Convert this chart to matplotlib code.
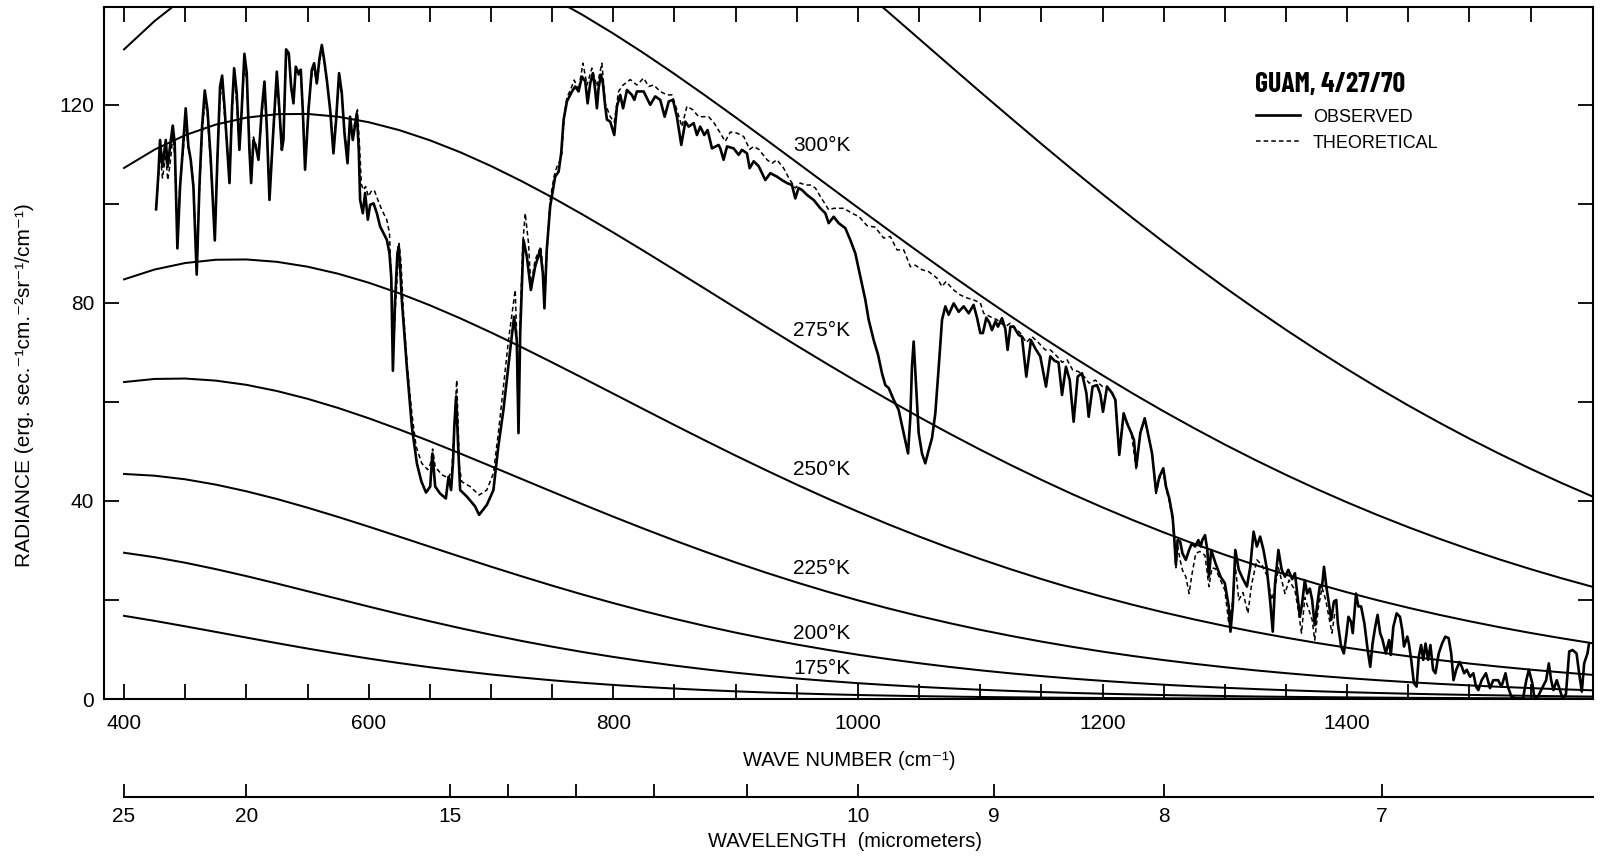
import matplotlib
matplotlib.use('Agg')
import matplotlib.pyplot as plt
from matplotlib.ticker import FixedLocator, NullFormatter

# observed spectrum (cm^-1, radiance)
obs_nu = [426.2, 428.1, 429.4, 431.4, 434.1, 435.7, 437.6, 439.8, 441.4, 443.6, 445.8, 448.0, 450.4, 452.6, 454.5,
          456.7, 459.4, 461.6, 463.8, 466.0, 468.2, 470.9, 474.2, 476.3, 478.5, 480.2, 482.3, 486.2, 488.3, 490.0,
          492.1, 494.3, 496.2, 498.4, 500.3, 502.5, 503.9, 505.8, 507.7, 509.9, 512.6, 514.8, 516.7, 518.9, 521.6,
          524.9, 527.0, 529.0, 530.3, 532.5, 534.7, 536.6, 538.5, 540.4, 542.6, 544.5, 546.1, 548.0, 550.8, 553.5,
          555.4, 557.6, 559.8, 561.7, 563.6, 565.8, 568.5, 571.2, 573.4, 575.8, 578.0, 580.2, 582.7, 584.8, 587.0,
          588.7, 590.3, 591.9, 593.0, 595.2, 597.1, 599.3, 601.2, 604.0, 606.7, 609.4, 612.1, 614.9, 617.0, 618.5,
          619.8, 621.5, 623.5, 624.6, 626.0, 627.1, 631.2, 635.3, 639.4, 643.0, 646.9, 650.3, 652.1, 654.4, 658.4,
          663.1, 665.3, 667.4, 669.0, 670.0, 671.5, 673.4, 674.8, 680.2, 687.0, 690.3, 696.6, 702.0, 706.0, 710.2,
          715.7, 718.9, 721.1, 722.5, 723.9, 726.6, 729.3, 732.6, 736.1, 740.2, 742.4, 743.7, 745.6, 748.4, 752.5,
          755.3, 757.4, 759.4, 762.1, 766.2, 768.9, 771.6, 774.4, 777.1, 779.0, 781.2, 783.3, 785.2, 786.6, 788.0,
          789.9, 791.5, 793.4, 794.8, 797.5, 800.8, 803.0, 805.7, 808.0, 811.2, 815.2, 817.2, 819.3, 824.8, 830.2,
          834.3, 838.4, 842.0, 845.4, 848.8, 852.0, 855.6, 858.9, 861.6, 865.7, 868.4, 871.1, 874.4, 877.1, 880.7,
          886.1, 887.5, 890.2, 893.0, 898.4, 902.5, 905.2, 909.3, 911.5, 914.8, 918.9, 924.3, 928.4, 933.8, 937.9,
          942.0, 946.1, 948.8, 951.5, 954.3, 958.4, 963.8, 969.3, 973.4, 976.1, 980.2, 984.3, 989.7, 993.8, 997.9,
          1002.0, 1006.1, 1008.8, 1012.9, 1016.5, 1019.7, 1022.4, 1025.2, 1029.3, 1033.3, 1037.4, 1041.0, 1042.9,
          1044.2, 1045.6, 1047.5, 1049.7, 1052.4, 1055.1, 1057.9, 1060.6, 1063.3, 1066.1, 1068.8, 1071.5, 1074.2,
          1078.3, 1082.4, 1086.5, 1090.6, 1094.6, 1097.4, 1100.1, 1102.2, 1105.0, 1107.5, 1109.6, 1112.5, 1114.5,
          1117.8, 1120.5, 1122.4, 1124.7, 1127.3, 1131.5, 1134.1, 1137.7, 1141.5, 1145.0, 1149.1, 1153.8, 1157.3,
          1160.8, 1164.0, 1166.9, 1170.1, 1173.2, 1176.4, 1179.7, 1183.2, 1186.8, 1188.7, 1191.9, 1195.5, 1198.2,
          1200.4, 1203.7, 1207.8, 1210.5, 1213.7, 1217.3, 1220.0, 1223.6, 1225.7, 1227.6, 1230.9, 1234.5, 1237.7,
          1240.5, 1243.8, 1246.5, 1249.7, 1251.9, 1254.6, 1257.3, 1258.6, 1260.0, 1261.4, 1263.5, 1265.4, 1268.1,
          1270.8, 1273.0, 1275.7, 1278.4, 1280.3, 1281.6, 1283.8, 1285.7, 1287.0, 1288.9, 1292.4, 1296.5, 1300.0,
          1303.2, 1304.6, 1306.5, 1308.6, 1311.4, 1314.9, 1318.1, 1320.8, 1323.5, 1326.2, 1328.9, 1331.6, 1334.3,
          1337.0, 1339.2, 1341.1, 1343.8, 1346.5, 1349.2, 1351.9, 1355.1, 1357.3, 1359.5, 1361.4, 1363.2, 1365.4,
          1367.3, 1369.5, 1371.4, 1373.5, 1375.4, 1377.6, 1379.5, 1381.1, 1383.0, 1385.1, 1387.0, 1389.2, 1391.1,
          1392.4, 1395.1, 1397.3, 1399.2, 1401.1, 1403.2, 1404.6, 1407.3, 1409.2, 1411.4, 1414.1, 1416.8, 1418.9,
          1420.8, 1423.0, 1424.9, 1427.0, 1428.9, 1431.6, 1434.3, 1435.7, 1437.8, 1440.5, 1443.2, 1445.1, 1446.5,
          1449.2, 1450.5, 1452.4, 1454.6, 1456.8, 1458.6, 1460.5, 1462.2, 1464.1, 1466.2, 1468.1, 1470.3, 1472.2,
          1474.9, 1477.6, 1480.3, 1483.0, 1485.1, 1487.0, 1489.2, 1491.9, 1493.8, 1495.7, 1497.8, 1500.5, 1503.2,
          1505.4, 1507.3, 1510.0, 1513.5, 1516.8, 1519.5, 1523.5, 1526.2, 1529.5, 1531.4, 1534.3, 1538.4, 1543.8,
          1546.5, 1548.6, 1551.4, 1553.2, 1556.0, 1560.0, 1562.7, 1564.9, 1566.8, 1568.7, 1571.4, 1573.5, 1576.2,
          1578.9, 1581.6, 1584.3, 1587.6, 1589.7, 1591.9, 1593.8, 1596.5, 1597.8]
obs_rad = [98.9, 106.2, 112.9, 107.5, 112.9, 107.5, 111.6, 115.8, 112.3, 91.0, 103.5, 110.9, 119.3, 111.6, 108.9,
           103.5, 85.7, 103.5, 115.6, 122.9, 119.0, 108.9, 92.6, 108.9, 123.7, 125.9, 119.0, 104.2, 119.7, 127.4,
           122.4, 110.9, 119.0, 130.3, 126.4, 110.9, 104.2, 112.9, 111.6, 108.9, 119.0, 124.7, 115.6, 100.8, 112.9,
           126.7, 119.0, 110.9, 112.9, 131.2, 130.4, 123.7, 120.3, 127.7, 126.4, 127.1, 119.0, 106.9, 119.0, 127.1,
           128.4, 124.4, 129.4, 132.1, 129.1, 125.0, 119.0, 110.2, 117.0, 126.4, 122.4, 114.3, 108.2, 117.6, 112.9,
           115.6, 118.3, 110.9, 100.8, 98.1, 102.2, 96.8, 99.8, 100.1, 98.1, 95.4, 94.1, 92.7, 90.0, 85.0,
           66.3, 80.0, 90.0, 91.4, 86.0, 80.6, 67.1, 55.0, 47.6, 44.0, 41.7, 42.9, 49.6, 42.9, 41.5,
           40.5, 44.9, 42.2, 48.0, 55.0, 61.1, 49.6, 42.2, 40.9, 38.9, 37.2, 39.2, 42.2, 51.0, 58.4,
           70.5, 77.2, 72.5, 53.7, 73.9, 92.7, 89.4, 82.6, 87.3, 90.7, 86.0, 78.9, 90.7, 99.5, 105.5,
           106.5, 110.2, 117.0, 120.7, 122.7, 123.7, 122.7, 125.7, 124.7, 120.3, 124.4, 126.4, 123.0, 119.3, 123.4,
           126.1, 124.4, 119.7, 117.0, 116.6, 113.9, 119.7, 122.0, 119.3, 123.0, 122.0, 121.0, 122.7, 122.7, 120.0,
           121.7, 121.0, 117.6, 120.7, 121.0, 117.6, 111.9, 116.6, 115.6, 116.3, 113.9, 115.6, 113.9, 114.9, 111.2,
           111.9, 111.2, 108.9, 111.6, 111.2, 109.9, 110.9, 110.2, 107.2, 108.6, 107.6, 104.8, 106.2, 105.5, 104.8,
           104.2, 103.8, 101.1, 103.2, 102.8, 101.8, 100.8, 99.1, 98.1, 96.1, 97.4, 96.1, 95.1, 92.7, 90.0,
           85.3, 80.6, 76.6, 72.5, 69.5, 65.8, 63.4, 62.8, 60.4, 58.4, 53.7, 49.6, 57.0,
           67.1, 72.2, 63.8, 53.7, 49.6, 47.6, 50.3, 52.7, 57.7, 67.1, 76.6, 79.3, 77.6,
           79.9, 78.2, 79.3, 77.9, 79.6, 77.0, 73.9, 73.9, 77.0, 76.0, 74.5, 76.3, 75.2,
           76.9, 74.8, 70.5, 75.2, 75.2, 73.5, 73.2, 65.1, 72.5, 70.8, 69.2, 63.1, 69.2,
           68.3, 68.0, 61.4, 67.1, 64.4, 56.0, 65.1, 65.8, 61.8, 57.0, 63.1, 63.4, 61.6,
           58.0, 63.1, 61.8, 60.4, 49.3, 57.7, 55.7, 53.7, 52.3, 46.9, 53.7, 56.7, 53.0,
           49.6, 41.9, 44.9, 46.6, 42.9, 40.5, 36.8, 32.8, 27.1, 32.1, 31.8, 29.4, 28.1,
           30.1, 31.4, 30.8, 32.1, 30.8, 32.1, 33.1, 30.1, 24.7, 30.1, 27.4, 24.7, 23.4,
           18.7, 13.6, 18.7, 30.1, 26.1, 24.2, 22.7, 26.7, 33.8, 30.8, 32.8, 30.1, 26.4,
           20.0, 13.6, 23.4, 30.1, 26.1, 24.7, 26.1, 24.2, 25.4, 20.7, 16.6, 19.3, 24.0,
           21.3, 22.3, 20.0, 14.9, 18.7, 22.7, 22.7, 26.7, 22.7, 19.3, 16.0, 19.7, 20.0,
           15.3, 10.6, 9.2, 12.6, 16.6, 15.6, 13.3, 21.3, 18.7, 18.7, 15.3, 9.9, 6.5,
           11.2, 14.6, 17.0, 13.3, 12.0, 9.2, 11.9, 8.9, 14.6, 17.3, 16.6, 13.9, 10.6,
           12.6, 11.2, 7.9, 3.2, 2.5, 8.6, 10.9, 7.9, 11.2, 7.9, 10.9, 5.9, 5.2,
           9.2, 11.2, 12.6, 12.3, 9.2, 3.8, 5.9, 7.5, 6.5, 5.2, 5.9, 4.5, 5.2,
           2.5, 1.8, 3.8, 5.2, 2.2, 3.8, 3.8, 2.5, 5.2, 2.5, 0.5, 0.1, 0.1,
           3.8, 5.9, 3.2, 0.1, 0.5, 2.5, 3.8, 7.2, 3.8, 1.8, 3.8, 2.2, 0.1,
           1.0, 9.6, 9.9, 9.2, 5.2, 1.5, 7.2, 9.2, 11.2]

# theoretical spectrum (dashed)
theo_nu = [426.2, 428.1, 429.4, 431.4, 434.1, 435.7, 437.6, 439.8, 441.4, 443.6, 445.8, 448.0, 450.4, 452.6, 454.5,
           456.7, 459.4, 461.6, 463.8, 466.0, 468.2, 470.9, 474.2, 476.3, 478.5, 480.2, 482.3, 486.2, 488.3, 490.0,
           492.1, 494.3, 496.2, 498.4, 500.3, 502.5, 503.9, 505.8, 507.7, 509.9, 512.6, 514.8, 516.7, 518.9, 521.6,
           524.9, 527.0, 529.0, 530.3, 532.5, 534.7, 536.6, 538.5, 540.4, 542.6, 544.5, 546.1, 548.0, 550.8, 553.5,
           555.4, 557.6, 559.8, 561.7, 563.6, 565.8, 568.5, 571.2, 573.4, 575.8, 578.0, 580.2, 582.7, 584.8, 587.0,
           588.7, 590.8, 592.5, 594.0, 595.7, 597.5, 599.8, 602.0, 604.5, 607.5, 610.7, 614.8, 617.0, 618.9, 620.3,
           622.2, 624.9, 626.5, 628.3, 631.6, 635.3, 638.8, 643.4, 648.3, 650.5, 652.3, 654.4, 659.8, 665.3, 668.0,
           670.0, 672.0, 673.4, 674.2, 676.1, 683.0, 690.3, 696.6, 702.0, 706.0, 710.2, 714.3, 718.4, 719.8, 721.0,
           722.3, 723.8, 726.0, 728.0, 730.7, 732.6, 736.1, 740.8, 742.9, 744.0, 745.8, 748.4, 751.5, 753.9, 756.0,
           758.0, 759.8, 762.1, 764.8, 768.1, 771.5, 775.2, 778.5, 782.5, 786.6, 790.7, 793.4, 797.5, 800.8, 804.3,
           808.0, 813.9, 819.3, 824.8, 828.9, 833.0, 838.4, 843.9, 848.0, 852.0, 856.1, 860.2, 865.0, 869.8, 874.0,
           878.0, 882.5, 887.5, 891.5, 895.7, 901.0, 906.6, 911.5, 914.8, 919.0, 925.7, 929.8, 933.8, 939.3, 944.0,
           948.8, 952.9, 957.0, 961.1, 965.2, 969.3, 976.1, 980.2, 988.4, 995.2, 1001.0, 1007.4, 1014.0, 1021.1,
           1026.5, 1032.0, 1037.5, 1042.9, 1047.0, 1052.4, 1057.9, 1064.7, 1068.8, 1072.0, 1078.3, 1083.7, 1089.2,
           1094.6, 1100.1, 1102.8, 1108.3, 1113.7, 1120.6, 1124.6, 1132.8, 1137.7, 1142.3, 1147.5, 1153.2, 1157.4,
           1162.8, 1167.0, 1171.0, 1175.5, 1180.5, 1185.0, 1189.0, 1194.1, 1200.0, 1203.7, 1207.7, 1210.6, 1213.5,
           1217.3, 1220.0, 1223.6, 1227.6, 1230.9, 1234.5, 1237.7, 1240.5, 1243.8, 1246.5, 1249.7, 1251.9, 1254.6,
           1257.3, 1258.6, 1260.0, 1261.4, 1263.5, 1265.4, 1268.1, 1270.8, 1273.0, 1276.2, 1279.5, 1283.8, 1287.0,
           1289.5, 1292.4, 1296.5, 1300.0, 1303.2, 1306.0, 1308.6, 1311.4, 1314.9, 1318.9, 1321.8, 1326.2, 1330.5,
           1334.3, 1338.4, 1341.1, 1343.8, 1349.2, 1352.5, 1357.3, 1360.0, 1362.7, 1365.4, 1368.0, 1371.4, 1373.5,
           1376.5, 1379.5, 1382.5, 1387.6, 1390.0]
theo_rad = [99.5, 105.0, 110.5, 105.2, 109.8, 104.8, 108.0, 113.5, 110.0, 93.5, 104.5, 109.5, 117.0, 111.0, 109.5,
            104.0, 88.0, 102.5, 113.5, 121.0, 118.0, 107.5, 94.5, 109.5, 121.5, 124.0, 117.5, 105.5, 118.0, 125.5,
            120.5, 111.5, 118.5, 128.5, 125.0, 111.5, 106.0, 113.5, 112.0, 109.5, 118.0, 123.0, 115.0, 102.0, 113.0,
            125.0, 118.0, 111.5, 113.5, 130.0, 130.4, 123.0, 121.0, 127.0, 126.0, 126.5, 119.5, 108.0, 119.5, 126.0,
            127.5, 124.0, 128.5, 131.5, 128.5, 124.5, 119.5, 111.5, 117.5, 125.5, 122.0, 115.0, 110.0, 117.0, 113.5,
            116.5, 119.0, 112.0, 104.0, 102.8, 103.5, 101.5, 102.5, 102.8, 100.8, 98.8, 96.8, 94.1, 80.6, 71.2,
            80.6, 92.0, 88.0, 78.6, 67.1, 57.7, 51.0, 47.6, 46.3, 47.5, 50.5, 46.9, 45.3, 44.6, 46.3,
            55.0, 64.4, 53.0, 46.9, 43.9, 42.9, 41.2, 42.2, 45.6, 53.7, 63.1, 72.5, 80.0, 82.6, 74.0,
            55.0, 76.0, 92.0, 98.1, 92.0, 83.3, 88.7, 91.4, 85.3, 80.5, 90.5, 100.8, 105.5, 107.5, 108.5,
            110.2, 117.5, 121.5, 122.9, 125.0, 122.9, 128.4, 124.0, 127.4, 123.7, 128.4, 120.3, 117.6, 116.5, 122.7,
            124.0, 125.1, 124.0, 125.4, 123.7, 124.0, 122.7, 122.0, 122.0, 119.0, 115.6, 119.7, 119.0, 117.6, 117.6,
            117.6, 116.3, 114.3, 112.6, 114.5, 114.3, 113.6, 111.0, 111.6, 111.0, 108.9, 108.2, 108.9, 107.2, 105.0,
            103.2, 104.2, 103.8, 103.8, 103.2, 101.5, 98.8, 99.1, 99.1, 98.1, 97.4, 95.6, 95.3, 93.1,
            93.4, 90.7, 90.7, 87.3, 87.6, 86.7, 86.3, 85.0, 83.3, 84.3, 82.6, 81.6, 81.0,
            80.6, 80.0, 77.9, 77.2, 76.6, 75.2, 75.9, 73.9, 72.0, 73.2, 72.0, 70.5, 70.5,
            69.2, 68.0, 68.5, 66.5, 66.1, 65.1, 63.8, 64.4, 63.1, 63.1, 61.8, 60.4, 50.0,
            57.7, 56.0, 53.7, 46.3, 54.0, 56.5, 53.0, 49.6, 41.5, 44.5, 46.0, 42.5, 40.0,
            36.0, 32.0, 26.5, 31.0, 28.0, 26.0, 24.7, 21.3, 25.0, 29.4, 29.8, 29.0, 22.7,
            26.5, 26.3, 24.0, 22.0, 15.3, 19.0, 27.0, 20.0, 21.5, 17.3, 23.0, 28.1, 27.0,
            25.0, 20.0, 22.5, 26.5, 21.3, 24.0, 22.0, 18.0, 13.3, 20.5, 18.5, 16.0, 11.9,
            18.5, 22.5, 20.0, 13.3, 17.5]

# blackbody reference curves, read every 25 cm^-1 from 400 to 1600
bb_nu = list(range(400, 1601, 25))
bb_150 = [16.80, 15.78, 14.68, 13.55, 12.41, 11.28, 10.19, 9.15, 8.17, 7.26, 6.42, 5.66, 4.96, 4.34, 3.78, 3.28,
          2.84, 2.45, 2.11, 1.81, 1.55, 1.32, 1.13, 0.96, 0.81, 0.69, 0.58, 0.49, 0.41, 0.35, 0.29, 0.25,
          0.21, 0.17, 0.14, 0.12, 0.10, 0.08, 0.07, 0.06, 0.05, 0.04, 0.03, 0.03, 0.02, 0.02, 0.02, 0.01, 0.01]
bb_175 = [29.54, 28.64, 27.52, 26.23, 24.82, 23.32, 21.77, 20.22, 18.67, 17.16, 15.70, 14.30, 12.98, 11.73, 10.57,
          9.49, 8.50, 7.59, 6.75, 6.00, 5.31, 4.70, 4.14, 3.65, 3.20, 2.81, 2.46, 2.15, 1.87, 1.63, 1.42, 1.23,
          1.07, 0.93, 0.80, 0.69, 0.60, 0.51, 0.44, 0.38, 0.33, 0.28, 0.24, 0.21, 0.18, 0.15, 0.13, 0.11, 0.09]
bb_200 = [45.45, 45.10, 44.37, 43.30, 41.95, 40.39, 38.64, 36.77, 34.81, 32.79, 30.76, 28.73, 26.73, 24.79, 22.90,
          21.09, 19.37, 17.74, 16.20, 14.76, 13.41, 12.16, 11.00, 9.94, 8.95, 8.05, 7.23, 6.48, 5.80, 5.18, 4.63,
          4.12, 3.67, 3.26, 2.89, 2.56, 2.27, 2.01, 1.78, 1.57, 1.38, 1.22, 1.07, 0.94, 0.83, 0.73, 0.64, 0.56, 0.49]
bb_225 = [64.01, 64.64, 64.72, 64.30, 63.45, 62.20, 60.63, 58.78, 56.70, 54.44, 52.05, 49.56, 47.01, 44.44, 41.87,
          39.32, 36.82, 34.39, 32.03, 29.76, 27.58, 25.51, 23.54, 21.68, 19.93, 18.29, 16.75, 15.32, 13.98, 12.75,
          11.60, 10.55, 9.57, 8.68, 7.86, 7.11, 6.42, 5.79, 5.22, 4.70, 4.23, 3.80, 3.41, 3.06, 2.75, 2.46, 2.20,
          1.97, 1.76]
bb_250 = [84.75, 86.74, 88.05, 88.71, 88.77, 88.29, 87.31, 85.89, 84.08, 81.94, 79.52, 76.87, 74.03, 71.06, 67.98,
          64.84, 61.67, 58.49, 55.33, 52.22, 49.16, 46.19, 43.30, 40.51, 37.84, 35.27, 32.82, 30.49, 28.28, 26.20,
          24.23, 22.37, 20.64, 19.01, 17.49, 16.07, 14.75, 13.52, 12.39, 11.33, 10.36, 9.46, 8.63, 7.87, 7.16, 6.52,
          5.93, 5.39, 4.89]
bb_275 = [107.25, 110.96, 113.87, 116.01, 117.41, 118.11, 118.16, 117.60, 116.49, 114.89, 112.84, 110.41, 107.64,
          104.59, 101.31, 97.83, 94.21, 90.48, 86.68, 82.85, 79.00, 75.17, 71.37, 67.64, 63.98, 60.42, 56.95, 53.59,
          50.36, 47.25, 44.27, 41.41, 38.70, 36.11, 33.65, 31.33, 29.13, 27.06, 25.11, 23.28, 21.55, 19.94, 18.43,
          17.02, 15.71, 14.48, 13.34, 12.28, 11.29]
bb_300 = [131.20, 136.93, 141.78, 145.75, 148.87, 151.16, 152.64, 153.38, 153.40, 152.77, 151.53, 149.73, 147.45,
          144.71, 141.60, 138.14, 134.40, 130.42, 126.24, 121.91, 117.47, 112.95, 108.39, 103.81, 99.24, 94.71,
          90.23, 85.82, 81.51, 77.30, 73.20, 69.22, 65.38, 61.67, 58.10, 54.68, 51.39, 48.26, 45.27, 42.42, 39.71,
          37.14, 34.70, 32.40, 30.22, 28.16, 26.23, 24.41, 22.70]
bb_325 = [156.34, 164.35, 171.42, 177.55, 182.73, 186.96, 190.28, 192.71, 194.28, 195.04, 195.04, 194.32, 192.94,
          190.96, 188.42, 185.39, 181.91, 178.05, 173.84, 169.35, 164.61, 159.67, 154.57, 149.36, 144.05, 138.70,
          133.33, 127.96, 122.62, 117.34, 112.12, 106.99, 101.97, 97.06, 92.28, 87.63, 83.12, 78.77, 74.56, 70.50,
          66.61, 62.87, 59.28, 55.86, 52.58, 49.46, 46.49, 43.66, 40.97]

# temperature labels and where they sit
temp_labels = ['300°K', '275°K', '250°K', '225°K', '200°K', '175°K']
label_nu = 947
label_rad = [111.7, 74.4, 46.3, 26.4, 13.3, 6.2]

# wavelength scale (micrometers)
wl_major = [25, 20, 15, 10, 9, 8, 7]
wl_minor = [14, 13, 12, 11]

plt.rcParams['font.family'] = ['Liberation Sans', 'DejaVu Sans']
plt.rcParams['font.size'] = 14

fig = plt.figure(figsize=(16, 8.56), dpi=100)
ax = fig.add_axes([0.065, 0.1834, 0.9306, 0.8081])

for curve in [bb_150, bb_175, bb_200, bb_225, bb_250, bb_275, bb_300, bb_325]:
    ax.plot(bb_nu, curve, color='black', lw=1.45)

obs_line, = ax.plot(obs_nu, obs_rad, color='black', lw=1.9)
theo_line, = ax.plot(theo_nu, theo_rad, color='black', lw=1.1, dashes=(3, 2))

for txt, r in zip(temp_labels, label_rad):
    ax.text(label_nu, r, txt, ha='left', va='center', fontsize=15)

ax.set_xlim(383.6, 1601)
ax.set_ylim(0, 139.7)
ax.xaxis.set_major_locator(FixedLocator([400, 600, 800, 1000, 1200, 1400]))
ax.xaxis.set_minor_locator(FixedLocator(list(range(400, 1600, 50))))
ax.yaxis.set_major_locator(FixedLocator([0, 40, 80, 120]))
ax.yaxis.set_minor_locator(FixedLocator([20, 60, 100]))
ax.tick_params(which='both', direction='in', length=11, width=1.3, top=True, right=True)
ax.tick_params(axis='x', which='major', pad=11, labelsize=15)
ax.tick_params(axis='y', which='major', pad=7, labelsize=15)
for sp in ax.spines.values():
    sp.set_linewidth(1.5)

ax.text(0.773, 0.888, 'GUAM, 4/27/70', transform=ax.transAxes, ha='left', va='center',
        fontsize=20, fontweight='bold', family=['Barlow Condensed', 'DejaVu Sans'])
ax.legend([obs_line, theo_line], ['OBSERVED', 'THEORETICAL'], loc='center left',
          bbox_to_anchor=(0.7737, 0.8225), frameon=False, handlelength=2.45, handletextpad=0.7,
          labelspacing=0.5, borderpad=0, borderaxespad=0, fontsize=13)

# second scale: wavelength in micrometers
ax2 = fig.add_axes([0.065, 0.0689, 0.9306, 0.001])
ax2.set_xlim(ax.get_xlim())
ax2.patch.set_visible(False)
for side in ['top', 'left', 'right']:
    ax2.spines[side].set_visible(False)
ax2.spines['bottom'].set_bounds(400, 1601)
ax2.spines['bottom'].set_linewidth(1.5)
ax2.set_yticks([])
ax2.xaxis.set_major_locator(FixedLocator([10000 / w for w in wl_major]))
ax2.xaxis.set_minor_locator(FixedLocator([10000 / w for w in wl_minor]))
ax2.set_xticklabels([str(w) for w in wl_major])
ax2.xaxis.set_minor_formatter(NullFormatter())
ax2.tick_params(which='both', direction='in', length=9.5, width=1.3, pad=7, labelsize=15)

fig.text(0.5306, 0.112, 'WAVE NUMBER (cm⁻¹)', ha='center', va='center', fontsize=14.5)
fig.text(0.528, 0.0167, 'WAVELENGTH  (micrometers)', ha='center', va='center', fontsize=14.5)
fig.text(0.0156, 0.55, 'RADIANCE (erg. sec.⁻¹cm.⁻²sr⁻¹/cm⁻¹)', rotation=90,
         ha='center', va='center', fontsize=15)

fig.savefig('out.png', dpi=100)
